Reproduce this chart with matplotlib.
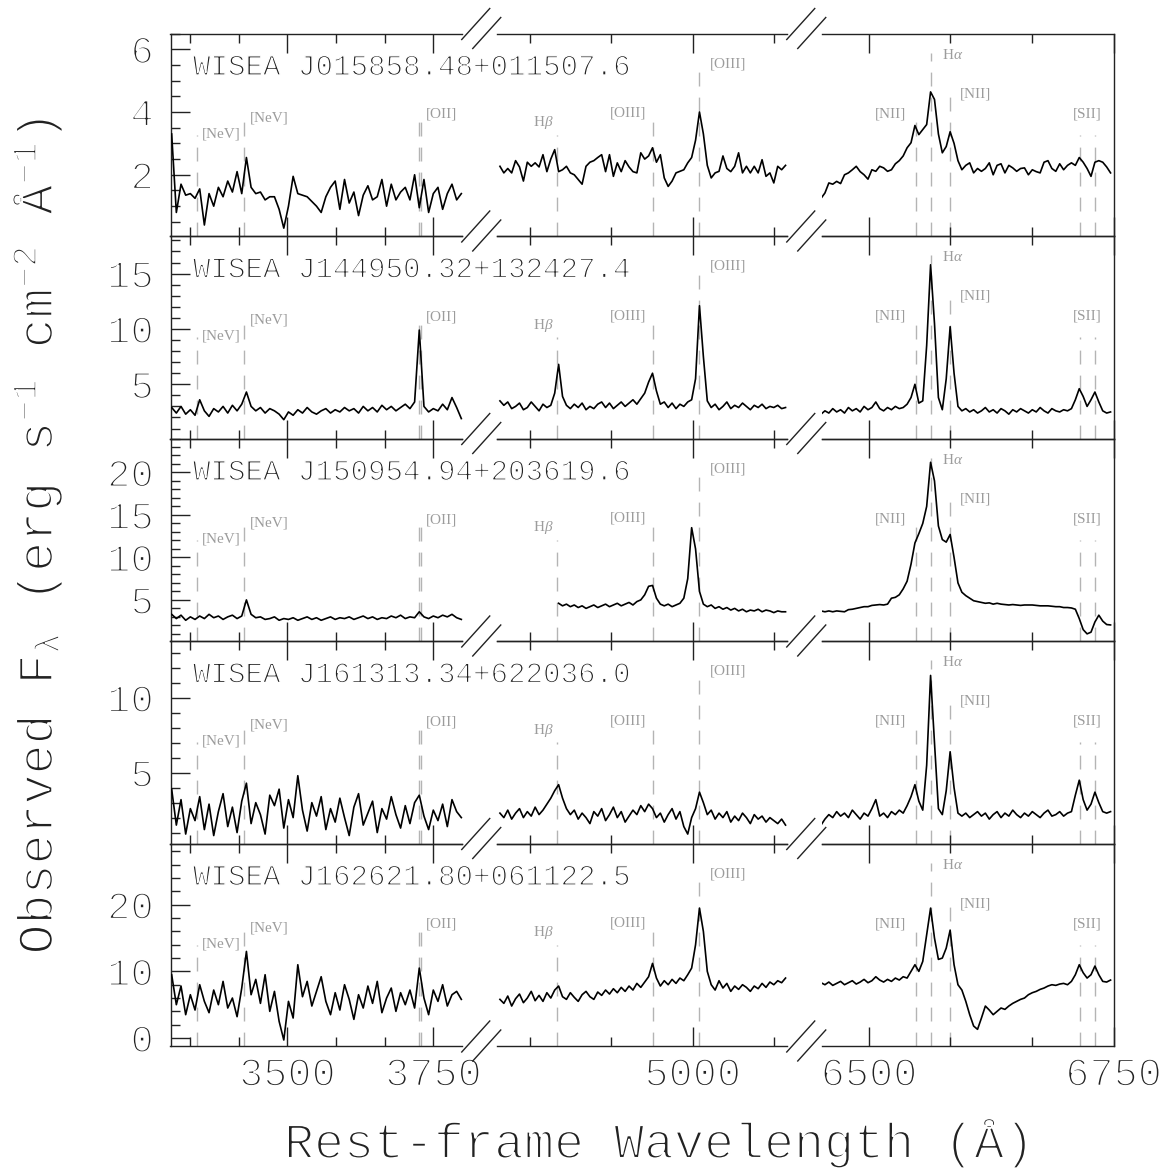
import numpy as np
import matplotlib
matplotlib.use('Agg')
import matplotlib.pyplot as plt
import matplotlib.patheffects as pe
from matplotlib.lines import Line2D
from matplotlib.ticker import MultipleLocator, FixedLocator

plt.rcParams['font.family'] = ['Liberation Mono', 'DejaVu Sans']
plt.rcParams['mathtext.fontset'] = 'custom'
plt.rcParams['mathtext.rm'] = 'Liberation Mono'
plt.rcParams['mathtext.it'] = 'Liberation Serif:italic'

names = ['WISEA J015858.48+011507.6', 'WISEA J144950.32+132427.4',
         'WISEA J150954.94+203619.6', 'WISEA J161313.34+622036.0',
         'WISEA J162621.80+061122.5']

# sampling of the three wavelength windows (start, step in Angstrom)
blue_start, blue_step = 3302, 8
mid_start = [4803, 4803, 4863, 4803, 4803]
mid_step = 4
red_start, red_step = 6451, 4

# --- fluxes, 1e-17 erg/s/cm2/A ---
blue1 = [3.3, 0.8, 1.7, 1.35, 1.4, 1.25, 1.55, 0.4, 1.4, 1.0,
         1.6, 1.3, 1.8, 1.45, 2.1, 1.4, 2.55, 1.6, 1.4, 1.45,
         1.2, 1.3, 1.3, 0.9, 0.3, 1.0, 1.95, 1.4, 1.35, 1.3,
         1.15, 1.0, 0.8, 1.3, 1.6, 1.8, 0.9, 1.85, 1.1, 1.45,
         0.7, 1.35, 1.65, 1.2, 1.3, 1.85, 1.0, 1.7, 1.2, 1.45,
         1.6, 1.2, 2.0, 0.95, 1.85, 0.8, 1.4, 1.6, 0.9, 1.4,
         1.7, 1.2, 1.4]
mid1 = [2.27, 2.06, 2.2, 2.06, 2.45, 2.25, 1.8, 2.4, 2.27, 2.38,
        2.25, 2.64, 2.1, 2.5, 2.8, 2.1, 2.16, 2.27, 2.06, 2.0,
        1.85, 1.7, 2.27, 2.4, 2.45, 2.55, 2.64, 2.1, 2.64, 1.95,
        2.38, 2.1, 2.45, 2.25, 2.1, 2.06, 2.7, 2.5, 2.6, 2.86,
        2.4, 2.64, 1.9, 1.63, 1.8, 2.06, 2.11, 2.16, 2.38, 2.55,
        3.1, 4.0, 3.3, 2.3, 1.9, 2.06, 2.11, 2.6, 2.2, 2.1,
        2.27, 2.7, 2.06, 2.27, 2.06, 2.27, 2.06, 2.48, 1.95, 2.06,
        1.74, 2.27, 2.16, 2.3]
red1 = [1.25, 1.42, 1.74, 1.7, 1.79, 1.72, 2.0, 2.06, 2.16, 2.27,
        2.1, 2.0, 1.86, 2.16, 2.11, 2.27, 2.22, 2.11, 2.16, 2.35,
        2.45, 2.6, 2.86, 3.02, 3.57, 3.28, 3.44, 3.6, 4.64, 4.4,
        3.3, 2.7, 2.9, 3.37, 3.0, 2.45, 2.16, 2.3, 2.38, 2.06,
        2.2, 2.11, 2.2, 2.38, 2.0, 2.3, 2.35, 2.06, 2.3, 2.22,
        2.11, 2.2, 2.22, 2.0, 2.16, 2.1, 2.06, 2.4, 2.45, 2.2,
        2.11, 2.35, 2.16, 2.3, 2.38, 2.3, 2.55, 2.4, 2.2, 1.95,
        2.4, 2.45, 2.4, 2.25, 2.06]

blue2 = [2.9, 2.4, 3.0, 2.3, 2.7, 2.2, 3.6, 2.6, 2.1, 2.8,
         2.5, 3.0, 2.4, 3.1, 2.6, 3.2, 4.3, 3.0, 2.6, 2.9,
         2.4, 2.8, 2.6, 2.3, 1.8, 2.5, 2.2, 2.7, 2.4, 2.9,
         2.5, 2.3, 2.6, 2.8, 2.4, 2.7, 2.5, 2.9, 2.6, 2.8,
         2.4, 3.0, 2.6, 2.9, 2.5, 3.1, 2.7, 3.0, 2.6, 2.9,
         3.2, 2.8, 3.4, 9.9, 3.0, 2.5, 2.8, 2.6, 3.2, 2.7,
         3.8, 2.9, 1.9]
mid2 = [3.5, 3.1, 3.4, 2.8, 3.0, 3.3, 2.7, 2.9, 3.4, 3.0,
        2.6, 3.2, 2.9, 3.1, 4.2, 6.8, 3.9, 3.1, 2.8, 3.2,
        2.9, 3.3, 2.7, 3.0, 2.8, 3.2, 3.4, 2.9, 3.3, 2.8,
        3.1, 3.4, 3.0, 3.3, 3.6, 3.2, 3.7, 4.2, 5.2, 6.0,
        4.4, 3.2, 3.4, 2.9, 3.3, 2.8, 3.2, 3.0, 3.4, 3.6,
        5.5, 12.1, 7.5, 3.5, 2.9, 3.2, 2.7, 3.0, 3.4, 2.8,
        3.1, 2.9, 3.3, 3.0, 2.7, 3.1, 2.9, 3.2, 2.8, 3.0,
        2.9, 3.1, 2.8, 2.9]
red2 = [2.3, 2.6, 2.4, 2.8, 2.5, 2.7, 2.4, 2.9, 2.6, 2.8,
        2.5, 3.0, 2.7, 2.9, 3.4, 2.8, 2.6, 2.9, 2.7, 3.0,
        2.8, 2.9, 3.2, 3.8, 5.0, 3.3, 3.5, 8.5, 15.8, 10.5,
        3.8, 2.7, 5.5, 10.2, 6.0, 3.0, 2.6, 2.8, 2.5, 2.7,
        2.4, 2.6, 2.9, 2.5, 2.7, 2.4, 2.8, 2.6, 2.3, 2.7,
        2.5, 2.8, 2.6, 2.4, 2.7, 2.5, 2.9, 2.6, 2.4, 2.8,
        2.6, 2.5, 2.7, 2.6, 2.8, 3.6, 4.6, 3.9, 3.0, 3.6,
        4.3, 3.4, 2.6, 2.4, 2.5]

blue3 = [3.3, 2.8, 3.2, 2.6, 3.0, 2.7, 3.1, 2.8, 3.3, 2.9,
         3.1, 2.7, 3.0, 3.2, 2.8, 3.1, 5.0, 3.3, 2.9, 3.0,
         2.7, 2.8, 3.0, 2.6, 2.8, 2.7, 2.9, 2.6, 2.8, 3.0,
         2.7, 2.9, 2.6, 2.8, 3.0, 2.7, 2.9, 2.8, 3.0, 2.7,
         2.9, 3.1, 2.8, 3.0, 2.7, 2.9, 2.8, 3.1, 2.9, 3.2,
         2.8, 3.0, 2.9, 3.6, 3.0, 2.8, 3.1, 2.9, 3.2, 3.0,
         3.3, 2.9, 2.7]
mid3 = [4.6, 4.3, 4.5, 4.2, 4.4, 4.1, 4.3, 4.0, 4.2, 4.4,
        4.1, 4.3, 4.5, 4.2, 4.4, 4.6, 4.3, 4.5, 4.7, 4.4,
        4.8, 5.0, 5.6, 6.6, 6.7, 5.2, 4.5, 4.3, 4.5, 4.2,
        4.4, 4.6, 5.2, 7.5, 13.5, 11.0, 6.0, 4.5, 4.2, 4.4,
        4.0, 4.2, 3.9, 4.1, 3.8, 4.0, 3.7, 3.9, 3.6, 3.8,
        3.7, 3.9, 3.6, 3.8, 3.7, 3.5, 3.7, 3.6, 3.6]
red3 = [3.7, 3.6, 3.7, 3.6, 3.7, 3.65, 3.6, 3.85, 3.9, 4.0,
        4.1, 4.2, 4.2, 4.35, 4.4, 4.45, 4.4, 4.5, 5.2, 5.3,
        5.6, 6.3, 7.2, 9.2, 11.7, 12.8, 14.0, 16.0, 21.2, 19.0,
        13.7, 12.1, 11.8, 12.7, 10.0, 7.0, 5.9, 5.5, 5.2, 4.9,
        4.8, 4.7, 4.6, 4.65, 4.5, 4.6, 4.5, 4.45, 4.4, 4.45,
        4.4, 4.35, 4.4, 4.4, 4.4, 4.35, 4.3, 4.3, 4.3, 4.25,
        4.2, 4.2, 4.1, 4.1, 4.05, 3.9, 2.8, 1.5, 1.0, 1.2,
        2.4, 3.2, 2.5, 2.1, 2.05]

blue4 = [3.9, 1.5, 3.2, 0.9, 2.6, 1.8, 3.4, 1.2, 2.9, 0.8,
         2.4, 3.6, 1.4, 2.7, 1.0, 3.1, 4.3, 1.6, 3.0, 2.2,
         0.9, 3.5, 2.8, 3.9, 1.3, 3.2, 2.0, 4.8, 2.5, 1.1,
         3.0, 2.1, 3.4, 1.2, 2.6, 1.7, 3.3, 2.0, 0.8, 2.7,
         3.6, 1.5, 2.3, 3.1, 1.0, 2.6, 1.9, 3.4, 2.2, 1.3,
         2.8, 1.6, 3.0, 3.5, 2.1, 1.2, 2.5, 1.8, 2.9, 1.4,
         3.2, 2.4, 2.0]
mid4 = [2.3, 2.0, 2.5, 1.9, 2.3, 2.6, 2.0, 2.4, 2.1, 2.7,
        2.2, 2.5, 2.9, 3.3, 3.8, 4.2, 3.3, 2.6, 2.2, 2.5,
        1.9, 2.3, 2.0, 1.6, 2.4, 2.1, 2.6, 1.8, 2.2, 2.7,
        2.0, 2.4, 1.7, 2.1, 2.5, 2.2, 2.8, 2.4, 2.9, 2.6,
        2.0, 2.3, 1.7, 2.2, 2.6, 1.9, 2.4, 1.4, 0.9, 2.0,
        2.6, 3.7, 3.0, 2.2, 2.5, 1.9, 2.3, 2.0, 2.4, 1.7,
        2.1, 1.8, 2.3, 2.0, 1.6, 2.2, 1.9, 2.1, 1.7, 2.0,
        1.8, 1.6, 1.9, 1.5]
red4 = [1.5, 1.9, 2.2, 2.0, 2.4, 2.1, 2.3, 2.0, 2.5, 2.2,
        1.9, 2.3, 2.1, 2.6, 3.2, 2.1, 2.3, 2.0, 2.4, 2.2,
        2.5, 2.3, 2.8, 3.4, 4.2, 3.1, 2.5, 5.5, 11.5, 7.0,
        2.6, 2.2, 3.8, 6.4, 4.0, 2.3, 2.1, 2.3, 2.0, 2.2,
        2.4, 2.1, 2.3, 1.9, 2.2, 2.4, 2.0, 2.3, 2.1, 2.5,
        2.2, 2.0, 2.3, 2.1, 2.4, 2.2, 2.0, 2.3, 2.5, 2.1,
        2.2, 2.4, 2.1, 2.3, 2.4, 3.5, 4.5, 3.2, 2.5, 2.9,
        3.7, 3.0, 2.4, 2.3, 2.4]

blue5 = [9.5, 5.0, 7.8, 3.5, 6.5, 4.2, 8.0, 5.5, 3.8, 7.2,
         5.0, 8.5, 4.5, 6.0, 3.2, 7.5, 13.0, 6.5, 8.8, 5.2,
         9.5, 4.0, 7.0, 2.5, -0.3, 5.5, 3.0, 11.0, 6.2, 8.5,
         4.8, 7.0, 9.2, 5.5, 3.5, 6.8, 4.2, 8.0, 5.8, 2.8,
         6.5, 4.5, 7.8, 5.2, 8.5, 3.8, 6.0, 7.5, 4.0, 6.8,
         5.0, 7.2, 4.5, 10.5, 6.0, 3.5, 7.2, 5.5, 8.0, 4.8,
         6.5, 7.0, 5.8]
mid5 = [5.8, 5.2, 6.3, 4.8, 5.9, 6.6, 5.3, 6.0, 7.0, 5.6,
        6.4, 5.5, 6.8, 6.0, 7.2, 7.8, 6.2, 5.8, 6.8, 6.1,
        5.5, 6.5, 7.0, 6.2, 5.8, 6.9, 6.4, 7.2, 6.6, 7.4,
        6.8, 7.6, 7.0, 7.8, 7.2, 8.2, 7.6, 8.4, 9.2, 11.2,
        9.0, 7.8, 8.6, 8.0, 8.8, 8.2, 9.0, 8.6, 9.5, 10.5,
        14.0, 19.5, 16.0, 10.0, 8.0, 7.2, 8.6, 7.5, 8.2, 7.0,
        7.8, 7.3, 8.0, 7.6, 7.0, 7.8, 7.4, 8.2, 7.6, 8.4,
        8.0, 8.6, 8.3, 9.0]
red5 = [8.3, 8.0, 8.4, 7.9, 8.2, 8.5, 8.0, 8.3, 8.6, 8.1,
        8.4, 8.8, 8.3, 8.6, 9.2, 8.7, 8.4, 8.8, 8.5, 9.0,
        8.7, 9.2, 9.0, 10.0, 11.0, 10.0, 11.5, 15.5, 19.5, 15.0,
        11.8, 12.0, 13.5, 16.2, 11.0, 8.0, 7.2, 5.5, 3.5, 1.8,
        1.3, 3.0, 4.8, 4.2, 3.5, 4.0, 4.5, 4.3, 4.8, 5.2,
        5.5, 5.8, 6.0, 6.5, 6.8, 7.0, 7.3, 7.5, 7.8, 8.0,
        7.9, 8.1, 8.2, 8.0, 8.5, 9.5, 11.0, 9.8, 9.0, 9.5,
        10.8, 9.5, 8.5, 8.4, 8.7]

blue = [blue1, blue2, blue3, blue4, blue5]
mid = [mid1, mid2, mid3, mid4, mid5]
red = [red1, red2, red3, red4, red5]

ylims = [(0.05, 6.5), (0.1, 18.4), (0.16, 24.0), (0.27, 13.8), (-1.2, 29.2)]
ymajor = [[2, 4, 6], [5, 10, 15], [5, 10, 15, 20], [5, 10], [0, 10, 20]]
yminor = [0.5, 1, 1, 1, 2]

# emission lines: label, wavelengths, window, top of dash (axes frac),
# label x offset (px), label y (axes frac), alignment
elines = [
    ('[NeV]', [3346], 0, 0.50, 5, 0.505, 'left'),
    ('[NeV]', [3426], 0, 0.59, 6, 0.585, 'left'),
    ('[OII]', [3726, 3729], 0, 0.59, 6, 0.60, 'left'),
    (r'H$\beta$', [4861], 1, 0.50, -3, 0.56, 'right'),
    ('[OIII]', [4959], 1, 0.60, -6, 0.605, 'right'),
    ('[OIII]', [5007], 1, 0.857, 10, 0.85, 'left'),
    ('[NII]', [6548], 2, 0.60, -10, 0.604, 'right'),
    (r'H$\alpha$', [6563], 2, 0.906, 11, 0.896, 'left'),
    ('[NII]', [6583], 2, 0.708, 10, 0.703, 'left'),
    ('[SII]', [6716, 6731], 2, 0.50, 0, 0.604, 'center'),
]

W, H = 1172, 1171
fig = plt.figure(figsize=(W / 100, H / 100), dpi=100)

top, bottom = 33.5, 1046.0
row_h = (bottom - top) / 5
seg_px = [(170.5, 462.5), (497.0, 787.5), (822.0, 1113.5)]
seg_lims = [(3300, 3800), (4800, 5097), (6452, 6750)]
line_col = '#b4b4b4'
lab_col = '#9c9c9c'
ink = '#222222'

# thin the glyphs a little (the original uses a hairline plotting font)
thin_big = [pe.Stroke(linewidth=1.5, foreground='white')]
thin_mid = [pe.Stroke(linewidth=1.0, foreground='white')]


def px_axes(x0, x1, y0, y1):
    return fig.add_axes([x0 / W, 1 - y1 / H, (x1 - x0) / W, (y1 - y0) / H])


all_axes = []
for r in range(5):
    y0 = top + r * row_h
    y1 = y0 + row_h
    specs = [
        (blue_start + blue_step * np.arange(len(blue[r])), blue[r]),
        (mid_start[r] + mid_step * np.arange(len(mid[r])), mid[r]),
        (red_start + red_step * np.arange(len(red[r])), red[r]),
    ]
    for s in range(3):
        ax = px_axes(seg_px[s][0], seg_px[s][1], y0, y1)
        all_axes.append(ax)
        ax.patch.set_visible(False)
        wave, flux = specs[s]
        for lab, lams, seg, ytop, dx, ylab, ha in elines:
            if seg != s:
                continue
            for lam in lams:
                ax.plot([lam, lam], [0, ytop], transform=ax.get_xaxis_transform(),
                        color=line_col, lw=1.0, dashes=(10, 8), zorder=1)
            xl = np.mean(lams)
            ax.annotate(lab, xy=(xl, ylab), xycoords=('data', 'axes fraction'),
                        xytext=(dx, 0), textcoords='offset pixels', ha=ha, va='center',
                        color=lab_col, fontsize=11, family='Liberation Serif')
        ax.plot(wave, flux, color='black', lw=1.2, zorder=3)
        ax.set_xlim(*seg_lims[s])
        ax.set_ylim(*ylims[r])
        ax.xaxis.set_major_locator(MultipleLocator(250))
        ax.xaxis.set_minor_locator(MultipleLocator(250 / 3))
        ax.yaxis.set_major_locator(FixedLocator(ymajor[r]))
        ax.yaxis.set_minor_locator(MultipleLocator(yminor[r]))
        ax.tick_params(axis='x', which='major', direction='in', length=13.5, width=1.0,
                       top=True, bottom=True, labelbottom=(r == 4), labelsize=29, pad=7,
                       color=ink, labelcolor=ink)
        ax.tick_params(axis='x', which='minor', direction='in', length=6.5, width=1.0,
                       top=True, bottom=True, color=ink)
        ax.tick_params(axis='y', which='major', direction='in', length=13.5, width=1.0,
                       left=(s == 0), right=False, labelleft=(s == 0), labelsize=28, pad=12,
                       color=ink, labelcolor=ink)
        ax.tick_params(axis='y', which='minor', direction='in', length=6.5, width=1.0,
                       left=(s == 0), right=False, color=ink)
        for side in ['top', 'bottom', 'left', 'right']:
            ax.spines[side].set_linewidth(1.0)
            ax.spines[side].set_color(ink)
        if s > 0:
            ax.spines['left'].set_visible(False)
        if s < 2:
            ax.spines['right'].set_visible(False)
        if s == 0:
            ax.text(0.077, 0.795, names[r], transform=ax.transAxes, fontsize=21,
                    va='baseline', ha='left', color=ink, zorder=5, path_effects=thin_mid)

# axis break marks
gaps = [(seg_px[0][1] + seg_px[1][0]) / 2, (seg_px[1][1] + seg_px[2][0]) / 2]
for i in range(6):
    yb = top + i * row_h
    for gx in gaps:
        for (ax0, ay0, ax1, ay1) in [(-18, 6, 10, -25), (-7, 15, 21, -16)]:
            fig.add_artist(Line2D([(gx + ax0) / W, (gx + ax1) / W],
                                  [1 - (yb + ay0) / H, 1 - (yb + ay1) / H],
                                  transform=fig.transFigure, color=ink, lw=1.0))

fig.text(37 / W, 1 - 536 / H,
         r'Observed F$_{\mathrm{\lambda}}$ (erg s$^{\mathrm{-1}}$ cm$^{\mathrm{-2}}$ Å$^{\mathrm{-1}}$)',
         rotation=90, ha='center', va='center', fontsize=36, color=ink, path_effects=thin_big)
fig.text(659 / W, 1 - 1158 / H, 'Rest-frame Wavelength (Å)', ha='center', va='baseline',
         fontsize=36, color=ink, path_effects=thin_big)

fig.canvas.draw()
for ax in all_axes:
    for lab in ax.get_xticklabels() + ax.get_yticklabels():
        lab.set_path_effects(thin_big)

fig.savefig('out.png', dpi=100)
